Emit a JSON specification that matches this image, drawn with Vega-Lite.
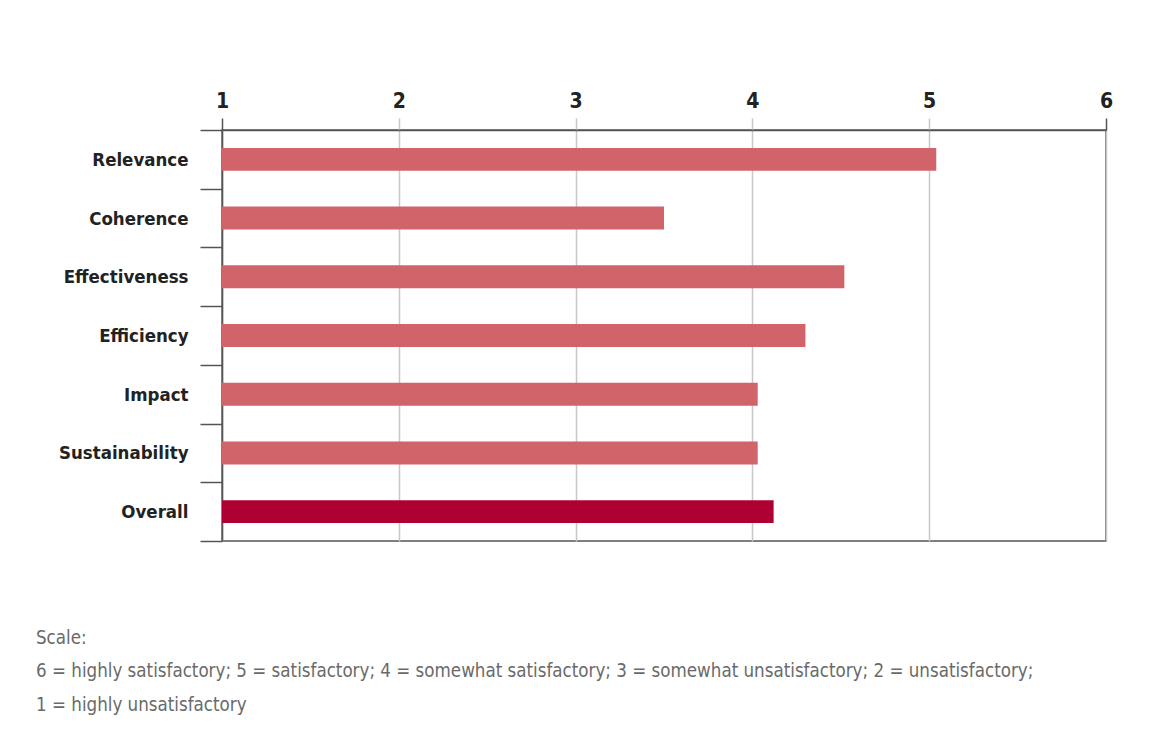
{
  "$schema": "https://vega.github.io/schema/vega-lite/v6.json",
  "width": 884,
  "height": 411,
  "autosize": {"type": "none"},
  "padding": {"left": 222, "top": 130, "right": 56, "bottom": 201},
  "background": "#ffffff",
  "data": {
    "values": [
      {"criterion": "Relevance", "score": 5.04, "group": "Criterion"},
      {"criterion": "Coherence", "score": 3.5, "group": "Criterion"},
      {"criterion": "Effectiveness", "score": 4.52, "group": "Criterion"},
      {"criterion": "Efficiency", "score": 4.3, "group": "Criterion"},
      {"criterion": "Impact", "score": 4.03, "group": "Criterion"},
      {"criterion": "Sustainability", "score": 4.03, "group": "Criterion"},
      {"criterion": "Overall", "score": 4.12, "group": "Overall"}
    ]
  },
  "title": {
    "text": [
      "Scale:",
      "6 = highly satisfactory; 5 = satisfactory; 4 = somewhat satisfactory; 3 = somewhat unsatisfactory; 2 = unsatisfactory;",
      "1 = highly unsatisfactory"
    ],
    "orient": "bottom",
    "anchor": "start",
    "frame": "group",
    "dx": -186,
    "offset": 87,
    "baseline": "top",
    "font": "DejaVu Sans Condensed, Roboto, sans-serif",
    "fontSize": 18.6,
    "fontWeight": "normal",
    "color": "#6a6a6a",
    "lineHeight": 33.5
  },
  "mark": {"type": "bar", "height": {"band": 0.39}},
  "encoding": {
    "y": {
      "field": "criterion",
      "type": "nominal",
      "sort": null,
      "scale": {"paddingInner": 0, "paddingOuter": 0},
      "axis": {
        "title": null,
        "orient": "left",
        "tickBand": "extent",
        "tickSize": 22,
        "tickColor": "#555555",
        "tickWidth": 1.5,
        "domainColor": "#555555",
        "domainWidth": 1.5,
        "labelPadding": 12,
        "labelFont": "DejaVu Sans Condensed, Roboto, sans-serif",
        "labelFontSize": 18.5,
        "labelFontWeight": "bold",
        "labelColor": "#222222"
      }
    },
    "x": {
      "field": "score",
      "type": "quantitative",
      "scale": {"domain": [1, 6], "nice": false, "zero": false, "clamp": true},
      "axis": {
        "title": null,
        "orient": "top",
        "values": [1, 2, 3, 4, 5, 6],
        "format": "d",
        "labelFlush": false,
        "tickSize": 12,
        "tickWidth": 1.5,
        "tickColor": {"condition": {"test": "datum.value == 1 || datum.value == 6", "value": "#555555"}, "value": "#c8c8c8"},
        "grid": true,
        "gridColor": "#c8c8c8",
        "gridWidth": 1.5,
        "domainColor": "#555555",
        "domainWidth": 1.5,
        "labelPadding": 7,
        "labelFont": "DejaVu Sans Condensed, Roboto, sans-serif",
        "labelFontSize": 21,
        "labelFontWeight": "bold",
        "labelColor": "#222222"
      }
    },
    "color": {
      "field": "group",
      "type": "nominal",
      "scale": {"domain": ["Criterion", "Overall"], "range": ["#d1636a", "#ae0032"]},
      "legend": null
    }
  },
  "config": {
    "view": {"stroke": "#555555", "strokeWidth": 1.5}
  }
}
